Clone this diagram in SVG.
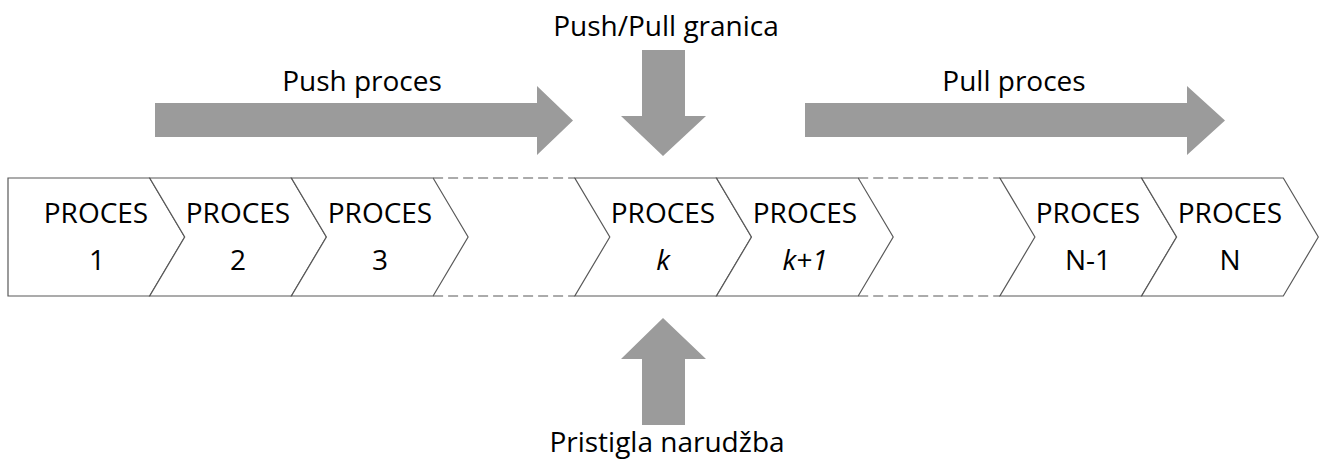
<svg xmlns="http://www.w3.org/2000/svg" width="1320" height="465" viewBox="0 0 1320 465">
<style>
.bg{fill:#ffffff}
.chev{fill:#ffffff;stroke:#595959;stroke-width:1.2;stroke-linejoin:miter}
.dash{fill:none;stroke:#595959;stroke-width:1.2;stroke-dasharray:10 5}
.arr{fill:#9b9b9b;stroke:none}
text{font-family:"Open Sans","Liberation Sans",sans-serif;font-size:28px;fill:#000000;text-anchor:middle}
.it{font-style:italic}
</style>
<rect class="bg" x="0" y="0" width="1320" height="465"/>
<g id="connectors">
  <path class="dash" d="M433.1,178 H574.8 M433.1,296 H574.8"/>
  <path class="dash" d="M858.2,178 H999.9 M858.2,296 H999.9"/>
</g>
<g id="proces-1">
  <polygon class="chev" points="8,178 149.7,178 184.7,237 149.7,296 8,296"/>
  <text x="96" y="223">PROCES</text>
  <text x="97" y="270">1</text>
</g>
<g id="proces-2">
  <polygon class="chev" points="149.7,178 291.4,178 326.4,237 291.4,296 149.7,296 184.7,237"/>
  <text x="238" y="223">PROCES</text>
  <text x="238" y="270">2</text>
</g>
<g id="proces-3">
  <polygon class="chev" points="291.4,178 433.1,178 468.1,237 433.1,296 291.4,296 326.4,237"/>
  <text x="380" y="223">PROCES</text>
  <text x="380" y="270">3</text>
</g>
<g id="proces-k">
  <polygon class="chev" points="574.8,178 716.5,178 751.5,237 716.5,296 574.8,296 609.8,237"/>
  <text x="663" y="223">PROCES</text>
  <text x="663" y="270" class="it">k</text>
</g>
<g id="proces-k1">
  <polygon class="chev" points="716.5,178 858.2,178 893.2,237 858.2,296 716.5,296 751.5,237"/>
  <text x="805" y="223">PROCES</text>
  <text x="805" y="270" class="it">k+1</text>
</g>
<g id="proces-n1">
  <polygon class="chev" points="999.9,178 1141.6,178 1176.6,237 1141.6,296 999.9,296 1034.9,237"/>
  <text x="1088" y="223">PROCES</text>
  <text x="1088" y="270">N-1</text>
</g>
<g id="proces-n">
  <polygon class="chev" points="1141.6,178 1283.3,178 1318.3,237 1283.3,296 1141.6,296 1176.6,237"/>
  <text x="1230" y="223">PROCES</text>
  <text x="1230" y="270">N</text>
</g>
<g id="push-proces">
  <polygon class="arr" points="155,103 537,103 537,86 573,120.5 537,155 537,137 155,137"/>
  <text x="362" y="91">Push proces</text>
</g>
<g id="push-pull-granica">
  <polygon class="arr" points="642,50 685,50 685,116 706,116 663,156 621,116 642,116"/>
  <text x="666" y="36">Push/Pull granica</text>
</g>
<g id="pull-proces">
  <polygon class="arr" points="805,103 1187,103 1187,86 1225,120.5 1187,155 1187,137 805,137"/>
  <text x="1014" y="91">Pull proces</text>
</g>
<g id="pristigla-narudzba">
  <polygon class="arr" points="663,318 706,359 685,359 685,425 642,425 642,359 621,359"/>
  <text x="667" y="452">Pristigla narudžba</text>
</g>
</svg>
